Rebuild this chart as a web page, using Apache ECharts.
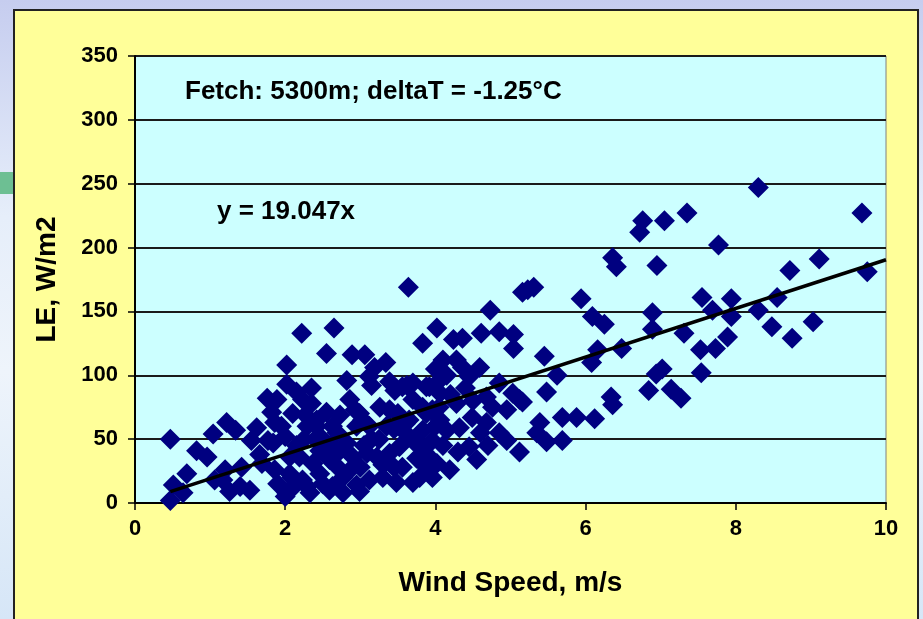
<!DOCTYPE html>
<html>
<head>
<meta charset="utf-8">
<script src="https://cdn.jsdelivr.net/npm/echarts@6/dist/echarts.min.js"></script>
<style>
  html, body {
    margin: 0;
    padding: 0;
    width: 923px;
    height: 619px;
    overflow: hidden;
    background: linear-gradient(to bottom, #c6cdef 0%, #e6eefa 35%, #eef4fb 60%, #d6e6f7 100%);
  }
  #stripe {
    position: absolute;
    left: 0;
    top: 172px;
    width: 14px;
    height: 22px;
    background: #6dbf93;
  }
  #panel {
    position: absolute;
    left: 13px;
    top: 9px;
    width: 906px;
    height: 630px;
    box-sizing: border-box;
    border: 2px solid #222;
    background: #ffff99;
  }
  #chart {
    position: absolute;
    left: 0;
    top: 0;
    width: 923px;
    height: 619px;
  }
</style>
</head>
<body>
<div id="stripe"></div>
<div id="panel"></div>
<div id="chart"></div>
<script>
// wind speed (m/s) and latent heat flux LE (W/m2)
const windSpeed = [
  0.47, 0.47, 0.51, 0.64, 0.69, 0.82, 0.96, 1.04, 1.22, 1.34,
  1.06, 1.17, 1.26, 1.40, 1.53, 1.20, 1.42, 1.55, 1.62, 1.66,
  1.69, 1.77, 1.86, 1.76, 1.89, 1.82, 1.84, 2.00, 1.86, 2.09,
  2.00, 2.02, 2.02, 2.15, 2.22, 2.65, 2.55, 2.89, 3.06, 2.82,
  2.23, 2.35, 2.27, 2.06, 2.06, 2.23, 2.02, 2.19, 2.37, 2.42,
  2.42, 2.29, 2.46, 2.46, 2.29, 2.33, 2.59, 2.59, 2.55, 2.73,
  2.63, 2.69, 2.82, 2.73, 2.90, 2.63, 2.77, 2.77, 2.86, 2.93,
  2.95, 2.95, 2.99, 2.99, 3.03, 3.09, 3.12, 3.12, 3.12, 3.15,
  3.19, 3.22, 3.26, 3.30, 3.34, 3.39, 3.39, 3.39, 3.46, 3.48,
  3.52, 3.56, 3.56, 3.62, 3.64, 3.70, 3.70, 3.70, 3.70, 3.79,
  3.79, 3.83, 3.83, 3.83, 3.88, 3.88, 3.88, 3.92, 3.92, 3.96,
  3.96, 3.96, 4.02, 4.02, 4.02, 4.06, 4.06, 4.10, 4.15, 4.19,
  4.24, 4.28, 4.28, 4.32, 4.36, 4.36, 4.45, 4.45, 4.49, 4.55,
  4.59, 4.61, 4.68, 4.68, 4.73, 4.76, 4.85, 4.85, 4.85, 4.95,
  4.95, 5.04, 5.04, 5.03, 5.12, 5.16, 5.12, 5.16, 5.23, 5.31,
  5.39, 5.35, 5.45, 5.48, 5.48, 5.62, 5.69, 5.69, 5.88, 5.94,
  6.09, 6.08, 6.12, 6.16, 6.25, 6.34, 6.36, 6.36, 6.41, 6.48,
  6.72, 6.76, 6.84, 6.89, 6.89, 6.94, 6.95, 7.02, 7.05, 7.14,
  7.27, 7.31, 7.35, 7.53, 7.54, 7.55, 7.69, 7.73, 7.77, 7.89,
  7.94, 7.94, 8.30, 8.30, 8.48, 8.55, 8.72, 8.75, 9.03, 9.11,
  9.68, 9.75, 3.00, 3.25, 3.45, 2.15, 2.50, 3.60, 4.10, 4.30,
  1.95, 2.10, 2.40, 2.60, 2.70, 2.85, 3.05, 3.15, 3.35, 3.50,
  3.65, 3.75, 3.85, 4.00, 4.05, 4.20, 4.40, 4.50, 4.60, 4.70,
  3.30, 3.45, 2.50, 2.10, 1.90, 2.25, 3.60, 4.15, 4.00, 2.35
]
const latentHeat = [
  50, 2, 14, 8, 23, 41, 36, 54, 63, 57,
  18, 18, 9, 13, 10, 26, 28, 49, 59, 38,
  31, 49, 63, 82, 81, 71, 47, 52, 26, 20,
  5, 108, 93, 87, 133, 137, 117, 116, 116, 96,
  81, 78, 69, 36, 23, 18, 8, 36, 31, 60,
  65, 60, 23, 41, 13, 8, 34, 10, 71, 69,
  60, 55, 47, 41, 36, 13, 20, 8, 81, 73,
  60, 14, 9, 70, 65, 39, 99, 60, 18, 92,
  106, 36, 75, 20, 110, 95, 73, 39, 88, 16,
  44, 91, 28, 92, 169, 94, 81, 49, 16, 44,
  20, 125, 75, 57, 91, 70, 28, 91, 36, 73,
  49, 20, 137, 94, 31, 86, 65, 112, 57, 26,
  128, 112, 78, 59, 129, 106, 99, 44, 67, 34,
  106, 133, 83, 63, 151, 75, 134, 94, 55, 73,
  49, 132, 121, 86, 81, 79, 40, 165, 167, 169,
  63, 55, 115, 87, 48, 100, 67, 49, 67, 160,
  146, 110, 66, 120, 140, 83, 77, 192, 185, 121,
  212, 221, 88, 149, 136, 101, 186, 105, 221, 89,
  82, 133, 227, 120, 102, 161, 151, 121, 202, 130,
  160, 146, 247, 151, 138, 161, 182, 129, 142, 191,
  227, 181, 28, 50, 58, 45, 50, 62, 45, 40,
  60, 70, 50, 45, 28, 25, 45, 50, 60, 70,
  65, 35, 40, 60, 75, 85, 90, 80, 55, 45,
  30, 28, 15, 12, 15, 50, 55, 100, 105, 90
]
const xTicks = [0, 2, 4, 6, 8, 10]
const yTicks = [0, 50, 100, 150, 200, 250, 300, 350]
const trendSlope = 19.047

const fontFamily = '"Liberation Sans", Arial, sans-serif'

const points = windSpeed.map((x, i) => [x, latentHeat[i]])
const xStart = Math.min(...windSpeed)
const xEnd = xTicks[xTicks.length - 1]
const trend = [
  [xStart, trendSlope * xStart],
  [xEnd, trendSlope * xEnd],
]

const chart = echarts.init(document.getElementById('chart'), null, { renderer: 'canvas' })

chart.setOption({
  animation: false,
  backgroundColor: 'transparent',
  grid: {
    left: 135,
    top: 56,
    width: 751,
    height: 447,
    show: true,
    backgroundColor: '#ccffff',
    borderColor: '#808080',
    borderWidth: 1,
  },
  xAxis: {
    type: 'value',
    min: xTicks[0],
    max: xEnd,
    interval: 2,
    name: 'Wind Speed, m/s',
    nameLocation: 'middle',
    nameGap: 66,
    nameTextStyle: { fontFamily, fontWeight: 'bold', fontSize: 28, color: '#000' },
    axisLine: { show: true, onZero: false, lineStyle: { color: '#000', width: 2 } },
    axisTick: { show: true, inside: false, length: 7, lineStyle: { color: '#000', width: 1.5 } },
    axisLabel: { margin: 15, fontFamily, fontWeight: 'bold', fontSize: 22, color: '#000' },
    splitLine: { show: false },
  },
  yAxis: {
    type: 'value',
    min: yTicks[0],
    max: yTicks[yTicks.length - 1],
    interval: 50,
    name: 'LE, W/m2',
    nameLocation: 'middle',
    nameRotate: 90,
    nameGap: 74,
    nameTextStyle: { fontFamily, fontWeight: 'bold', fontSize: 28, color: '#000' },
    axisLine: { show: true, lineStyle: { color: '#000', width: 2 } },
    axisTick: { show: true, inside: false, length: 7, lineStyle: { color: '#000', width: 1.5 } },
    axisLabel: { margin: 17, fontFamily, fontWeight: 'bold', fontSize: 22, color: '#000' },
    splitLine: { show: true, lineStyle: { color: '#1a1a1a', width: 2 } },
  },
  graphic: [
    {
      type: 'text',
      z: 100,
      style: {
        x: 185,
        y: 92,
        text: 'Fetch: 5300m; deltaT = -1.25°C',
        fill: '#000',
        font: 'bold 26px ' + fontFamily,
        textVerticalAlign: 'middle',
        verticalAlign: 'middle',
      },
    },
    {
      type: 'text',
      z: 100,
      style: {
        x: 217,
        y: 212,
        text: 'y = 19.047x',
        fill: '#000',
        font: 'bold 26px ' + fontFamily,
        textVerticalAlign: 'middle',
        verticalAlign: 'middle',
      },
    },
  ],
  series: [
    {
      type: 'scatter',
      data: points,
      symbol: 'diamond',
      symbolSize: 21,
      itemStyle: { color: '#000080', opacity: 1 },
      z: 2,
    },
    {
      type: 'line',
      data: trend,
      symbol: 'none',
      lineStyle: { color: '#000', width: 3.5 },
      z: 3,
    },
  ],
})
</script>
</body>
</html>
